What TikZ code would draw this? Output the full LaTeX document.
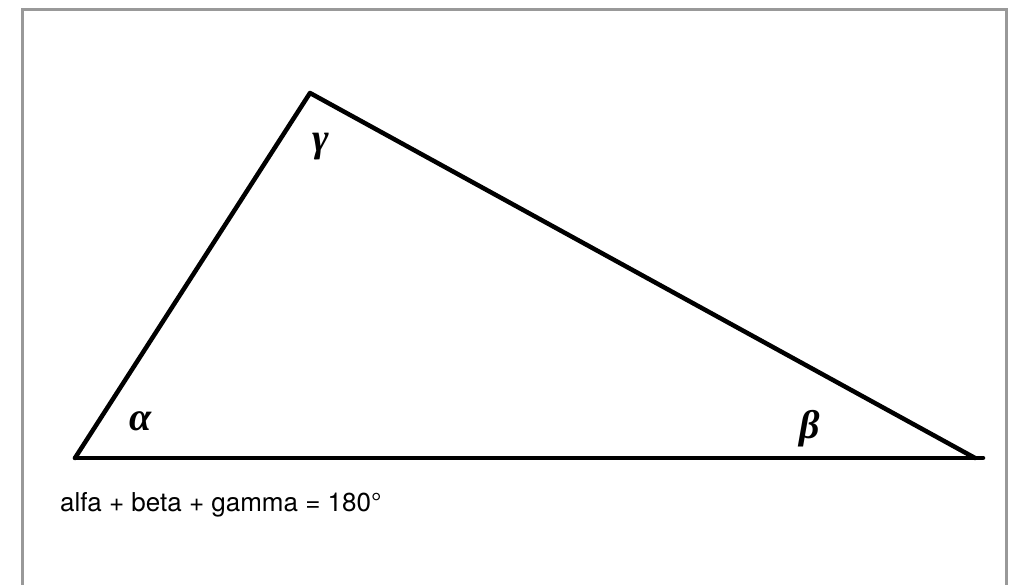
\documentclass[tikz,border=0pt]{standalone}
\usepackage{fontspec}
\setmainfont{TeX Gyre Heros}
\newfontfamily\greekfont{Liberation Serif}
\begin{document}
\begin{tikzpicture}[x=1pt,y=-1pt,
  side/.style={line width=4.5pt,line cap=round,line join=round},
  frame/.style={draw=black!40,line width=3pt},
  angle/.style={font=\greekfont\bfseries\itshape\fontsize{40}{40}\selectfont,inner sep=0pt}]
\useasboundingbox (0,0) rectangle (1025,585);
\draw[frame] (22.5,600) -- (22.5,9.5) -- (1006.5,9.5) -- (1006.5,600);
\coordinate (A) at (75,458);
\coordinate (B) at (975,458);
\coordinate (Bend) at (983,458);
\coordinate (C) at (310,93);
\draw[side] (A) -- (Bend);
\draw[side] (A) -- (C) -- (B);
\node[angle] (alpha) at (141,421) {α};
\node[angle] (beta) at (810,429) {β};
\node[angle] (gamma) at (321,147) {γ};
\node[anchor=base west,inner sep=0pt,font=\fontsize{26}{30}\selectfont] (sum) at (60,511) {alfa + beta + gamma = 180°};
\end{tikzpicture}
\end{document}
